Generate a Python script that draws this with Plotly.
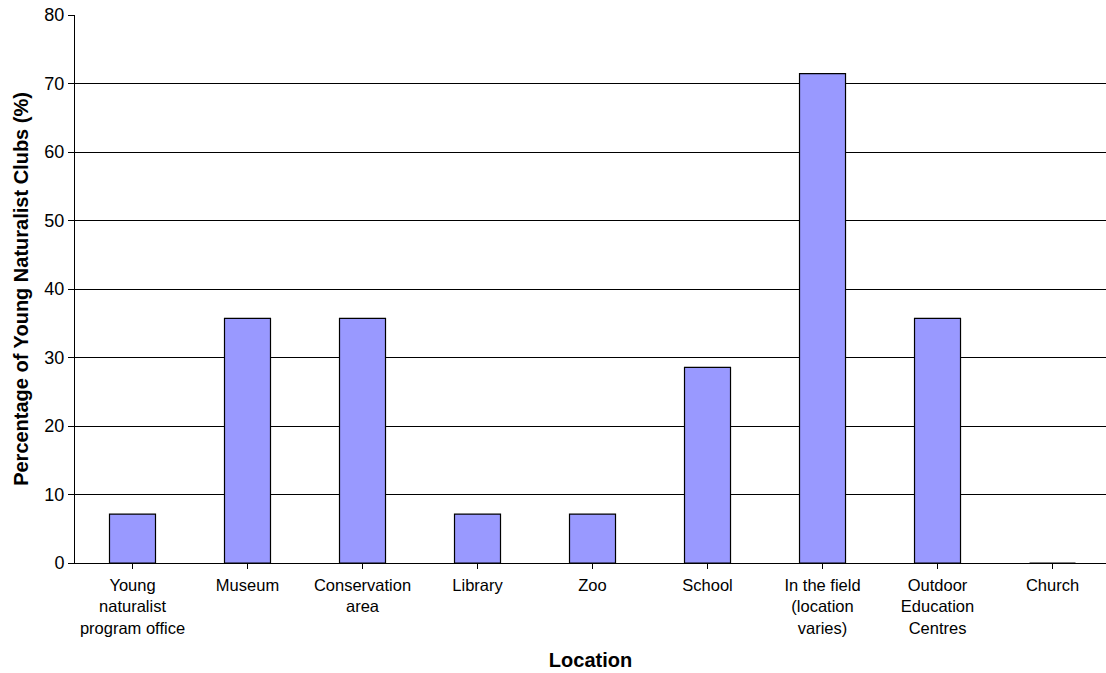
import plotly.graph_objects as go

locations = [
    "Young<br>naturalist<br>program office",
    "Museum",
    "Conservation<br>area",
    "Library",
    "Zoo",
    "School",
    "In the field<br>(location<br>varies)",
    "Outdoor<br>Education<br>Centres",
    "Church",
]
percentages = [7.14, 35.71, 35.71, 7.14, 7.14, 28.57, 71.43, 35.71, 0]
y_ticks = [0, 10, 20, 30, 40, 50, 60, 70, 80]

font_family = "Liberation Sans, Arial, sans-serif"

fig = go.Figure(
    go.Bar(
        x=list(range(len(locations))),
        y=percentages,
        marker=dict(color="#9999FF", line=dict(color="#000000", width=1.2)),
        width=0.4,
        hoverinfo="skip",
    )
)

fig.update_layout(
    width=1106,
    height=673,
    margin=dict(l=75, r=0, t=15, b=110),
    paper_bgcolor="white",
    plot_bgcolor="white",
    showlegend=False,
    font=dict(family=font_family, size=16.5, color="#000000"),
)

fig.update_xaxes(
    range=[-0.5, 8.465],
    tickmode="array",
    tickvals=list(range(len(locations))),
    ticktext=locations,
    tickson="boundaries",
    ticks="outside",
    ticklen=5,
    tickcolor="#000000",
    tickfont=dict(size=16.5),
    ticklabelstandoff=2,
    showline=True,
    linecolor="#000000",
    linewidth=1,
    showgrid=False,
    zeroline=False,
    tickangle=0,
    title=dict(text="<b>Location</b>", font=dict(size=20), standoff=17),
)

fig.update_yaxes(
    range=[0, 80],
    tickmode="array",
    tickvals=y_ticks,
    ticks="outside",
    ticklen=6,
    tickcolor="#000000",
    tickfont=dict(size=18),
    showline=True,
    linecolor="#000000",
    linewidth=1,
    showgrid=True,
    gridcolor="#000000",
    gridwidth=1,
    zeroline=False,
    title=dict(text="<b>Percentage of Young Naturalist Clubs (%)</b>", font=dict(size=20), standoff=10),
)

fig.write_html("out.html")
